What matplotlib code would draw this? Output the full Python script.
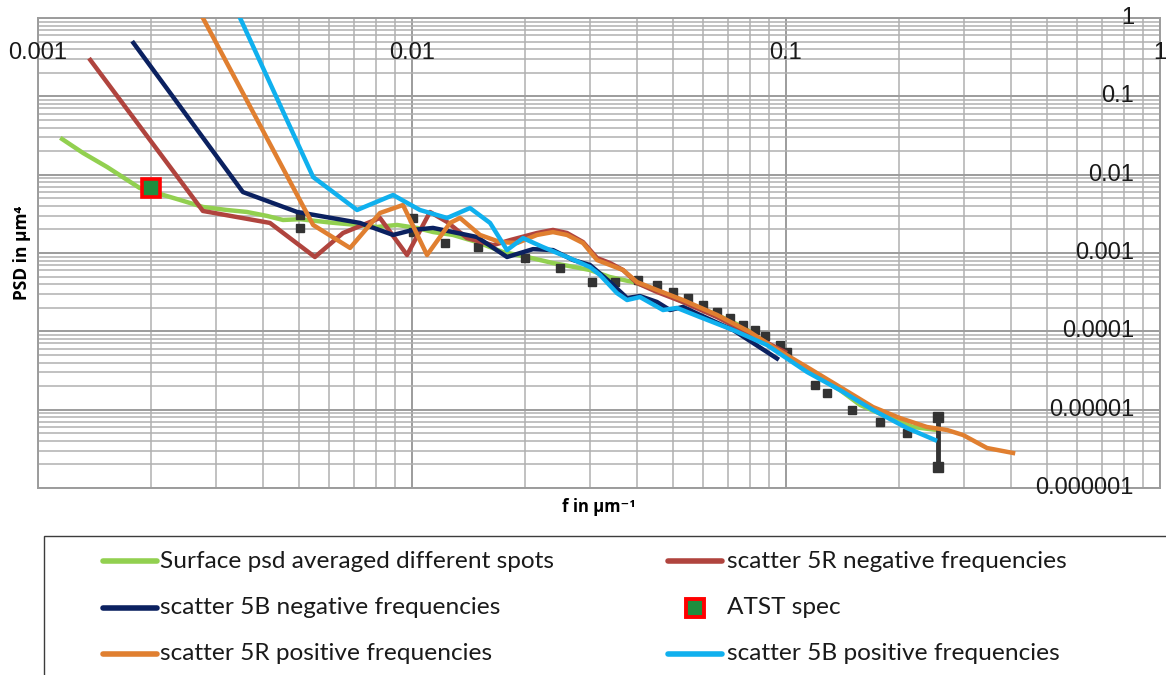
import matplotlib
matplotlib.use("Agg")
import matplotlib.pyplot as plt
from matplotlib.lines import Line2D
from matplotlib.patches import Rectangle
from matplotlib.ticker import LogLocator, NullFormatter
import matplotlib.transforms as mtransforms

# ---------------- data ----------------
green_f = [0.00116, 0.00132, 0.00153, 0.00187, 0.0024, 0.00276, 0.0032, 0.00362, 0.0041, 0.00452,
           0.00502, 0.00604, 0.00713, 0.00806, 0.00912, 0.0103, 0.0114, 0.01287, 0.01492, 0.0175,
           0.0203, 0.0238, 0.0299, 0.0338, 0.039, 0.0452, 0.053, 0.0638, 0.0767, 0.0923,
           0.1138, 0.1394, 0.1577, 0.1897, 0.2186, 0.2533]
green_p = [0.0285, 0.0189, 0.01253, 0.00676, 0.00475, 0.00387, 0.00354, 0.00334, 0.00297, 0.00264,
           0.0027, 0.00245, 0.00228, 0.00215, 0.00228, 0.00209, 0.00185, 0.0017, 0.00138, 0.00103,
           0.00089, 0.000745, 0.000607, 0.000494, 0.000426, 0.000337, 0.000237, 0.000171, 0.000114, 6.12e-5,
           3.21e-5, 1.78e-5, 1.15e-5, 7.82e-6, 6.01e-6, 5.5e-6]

red_f = [0.00138, 0.00276, 0.00417, 0.0055, 0.00654, 0.00821, 0.0097, 0.01117, 0.01241, 0.01403,
         0.01647, 0.01828, 0.02159, 0.02382, 0.02597, 0.02866, 0.03124, 0.03383, 0.03665, 0.03996,
         0.04519, 0.05304, 0.0654, 0.0801, 0.0994]
red_p = [0.291, 0.00344, 0.00242, 0.000889, 0.0018, 0.0028, 0.000942, 0.00334, 0.00249, 0.00155,
         0.00126, 0.00146, 0.0018, 0.00197, 0.0018, 0.00138, 0.000863, 0.000745, 0.000607, 0.000414,
         0.000318, 0.000237, 0.000152, 9.24e-5, 5.45e-5]

navy_f = [0.0018, 0.00353, 0.00493, 0.00726, 0.0089, 0.01006, 0.01138, 0.01287, 0.01492, 0.01795,
          0.02106, 0.02382, 0.02695, 0.02992, 0.03383, 0.03758, 0.0407, 0.04519, 0.04896, 0.05304,
          0.0589, 0.0722, 0.0946]
navy_p = [0.48, 0.006, 0.00334, 0.00242, 0.0017, 0.00197, 0.00209, 0.00185, 0.0016, 0.000889,
          0.00112, 0.00109, 0.000814, 0.000703, 0.000426, 0.000266, 0.000282, 0.000237, 0.000187, 0.000205,
          0.000162, 0.000104, 4.5e-5]

orange_f = [0.0025, 0.00544, 0.00683, 0.00821, 0.00946, 0.01097, 0.01264, 0.01344, 0.0152, 0.01719,
            0.01909, 0.02159, 0.02382, 0.02597, 0.02866, 0.03124, 0.03383, 0.03665, 0.03996, 0.04519,
            0.05304, 0.0654, 0.0801, 0.0923, 0.1138, 0.1394, 0.1709, 0.2017, 0.2382, 0.2695,
            0.2974, 0.3447, 0.4046]
orange_p = [2.43, 0.00228, 0.00116, 0.00324, 0.0041, 0.000942, 0.00242, 0.0028, 0.0017, 0.00138,
            0.00134, 0.0017, 0.00185, 0.0017, 0.00134, 0.000814, 0.000703, 0.000607, 0.000426, 0.000337,
            0.000251, 0.000162, 9.8e-5, 6.31e-5, 3.5e-5, 1.95e-5, 1.08e-5, 7.82e-6, 6.01e-6, 5.5e-6,
            4.75e-6, 3.24e-6, 2.8e-6]

cyan_f = [0.0032, 0.00544, 0.00713, 0.0089, 0.0105, 0.01241, 0.01429, 0.01617, 0.01795, 0.01981,
          0.0224, 0.02597, 0.02992, 0.03182, 0.03532, 0.03758, 0.0407, 0.0469, 0.05112, 0.0589,
          0.0722, 0.0889, 0.1138, 0.1394, 0.1709, 0.2106, 0.2503]
cyan_p = [2.32, 0.00933, 0.00354, 0.0055, 0.00354, 0.0028, 0.00375, 0.00242, 0.00109, 0.00155,
          0.00119, 0.000889, 0.000662, 0.000524, 0.000308, 0.000251, 0.000274, 0.000187, 0.000199, 0.000152,
          0.000104, 6.69e-5, 3.03e-5, 1.78e-5, 9.9e-6, 5.83e-6, 4.1e-6]

atst_f = [0.002]
atst_p = [0.00676]

err_f = [0.00502, 0.00502, 0.01006, 0.01006, 0.01225, 0.01502, 0.02005, 0.02487, 0.0303, 0.0349,
         0.0402, 0.0452, 0.0499, 0.0547, 0.06, 0.0654, 0.0708, 0.0767, 0.0826, 0.0879,
         0.0964, 0.1006, 0.1196, 0.1287, 0.1502, 0.1784, 0.2106]
err_p = [0.00305, 0.00209, 0.0028, 0.00185, 0.00134, 0.00119, 0.000863, 0.000643, 0.000426, 0.000426,
         0.000452, 0.00039, 0.000318, 0.000266, 0.000217, 0.000177, 0.000148, 0.00012, 0.000104, 8.71e-5,
         6.69e-5, 5.45e-5, 2.06e-5, 1.63e-5, 9.9e-6, 6.95e-6, 5.04e-6]

bar_f = [0.2549, 0.2549]
bar_p = [1.85e-6, 8.05e-6]

x_ticks = [0.001, 0.01, 0.1, 1]
x_tick_labels = ["0.001", "0.01", "0.1", "1"]
y_ticks = [1, 0.1, 0.01, 0.001, 0.0001, 0.00001, 0.000001]
y_tick_labels = ["1", "0.1", "0.01", "0.001", "0.0001", "0.00001", "0.000001"]

labels = ["Surface psd averaged different spots", "scatter 5R negative frequencies",
          "scatter 5B negative frequencies", "ATST spec",
          "scatter 5R positive frequencies", "scatter 5B positive frequencies"]

C_GREEN = "#92D050"
C_RED = "#B0443E"
C_NAVY = "#0B2160"
C_ORANGE = "#E07F30"
C_CYAN = "#10B0EE"
C_DARK = "#333333"

W, H = 1166, 675
fig = plt.figure(figsize=(W / 100, H / 100), dpi=100)
ax = fig.add_axes([38 / W, 1 - 488 / H, (1160 - 38) / W, (488 - 18) / H])
ax.set_xscale("log")
ax.set_yscale("log")
ax.set_xlim(1e-3, 1)
ax.set_ylim(1e-6, 1)
ax.xaxis.set_minor_locator(LogLocator(base=10, subs=range(2, 10), numticks=50))
ax.yaxis.set_minor_locator(LogLocator(base=10, subs=range(2, 10), numticks=50))
ax.xaxis.set_minor_formatter(NullFormatter())
ax.yaxis.set_minor_formatter(NullFormatter())
ax.grid(which="major", color="#9c9c9c", lw=1.4, zorder=0)
ax.grid(which="minor", color="#b0b0b0", lw=1.1, zorder=0)
ax.set_axisbelow(True)
ax.tick_params(which="both", length=0, labelbottom=False, labelleft=False)
for s in ax.spines.values():
    s.set_color("#9c9c9c")
    s.set_linewidth(1.4)

lw = 3.2
ax.plot(green_f, green_p, color=C_GREEN, lw=lw, zorder=3, solid_joinstyle="round")
ax.plot(err_f, err_p, ls="none", marker="s", ms=6, color=C_DARK, zorder=3.5)
ax.plot(bar_f, bar_p, color=C_DARK, lw=3.5, marker="s", ms=7, zorder=3.5)
ax.plot(red_f, red_p, color=C_RED, lw=lw, zorder=4, solid_joinstyle="round")
ax.plot(navy_f, navy_p, color=C_NAVY, lw=lw, zorder=5, solid_joinstyle="round")
ax.plot(orange_f, orange_p, color=C_ORANGE, lw=lw, zorder=6, solid_joinstyle="round")
ax.plot(cyan_f, cyan_p, color=C_CYAN, lw=lw, zorder=7, solid_joinstyle="round")
ax.plot(atst_f, atst_p, ls="none", marker="s", ms=13, mfc="#1E8E3E", mec="#FF0000", mew=2.6, zorder=8)

tick_font = dict(family="Liberation Sans", fontsize=17, color="#1a1a1a")
xt = mtransforms.blended_transform_factory(ax.transData, ax.transAxes)
for v, t in zip(x_ticks, x_tick_labels):
    ax.text(v, (488 - 53) / 470, t, transform=xt, ha="center", va="center", clip_on=False, **tick_font)
yt = mtransforms.blended_transform_factory(ax.transAxes, ax.transData)
for v, t in zip(y_ticks, y_tick_labels):
    ax.text((1134 - 38) / 1122, v, t, transform=yt, ha="right", va="center", clip_on=False, **tick_font)

fig.text(22 / W, 1 - 253 / H, "PSD in µm⁴", rotation=90, ha="center", va="center",
         fontsize=12.5, fontweight="bold", family=["Open Sans", "DejaVu Sans"])
fig.text(599 / W, 1 - 507 / H, "f in µm⁻¹", ha="center", va="center",
         fontsize=12, fontweight="bold", family=["Open Sans", "DejaVu Sans"])

# legend (drawn manually; frame runs off the figure like the original)
fig.add_artist(Rectangle((44 / W, -0.5), 2.0, 0.5 + (1 - 536 / H), fill=False,
                         edgecolor="#3c3c3c", lw=1.0, transform=fig.transFigure))
rows = [1 - 561 / H, 1 - 608 / H, 1 - 654 / H]
cols_h = [(103 / W, 157 / W), (668 / W, 722 / W)]
cols_t = [160 / W, 727 / W]
styles = [("line", C_GREEN), ("line", C_RED), ("line", C_NAVY), ("marker", None),
          ("line", C_ORANGE), ("line", C_CYAN)]
leg_font = dict(family="Lato", fontsize=17.6, color="#1a1a1a")
for i, (lab, (kind, col)) in enumerate(zip(labels, styles)):
    r, c = divmod(i, 2)
    y = rows[r]
    x0, x1 = cols_h[c]
    if kind == "line":
        fig.add_artist(Line2D([x0, x1], [y, y], color=col, lw=4, transform=fig.transFigure,
                              solid_capstyle="round"))
    else:
        fig.add_artist(Line2D([(x0 + x1) / 2], [y], ls="none", marker="s", ms=13, mfc="#1E8E3E",
                              mec="#FF0000", mew=2.8, transform=fig.transFigure))
    fig.text(cols_t[c], y, lab, ha="left", va="center", **leg_font)

fig.savefig("out.png", dpi=100)
